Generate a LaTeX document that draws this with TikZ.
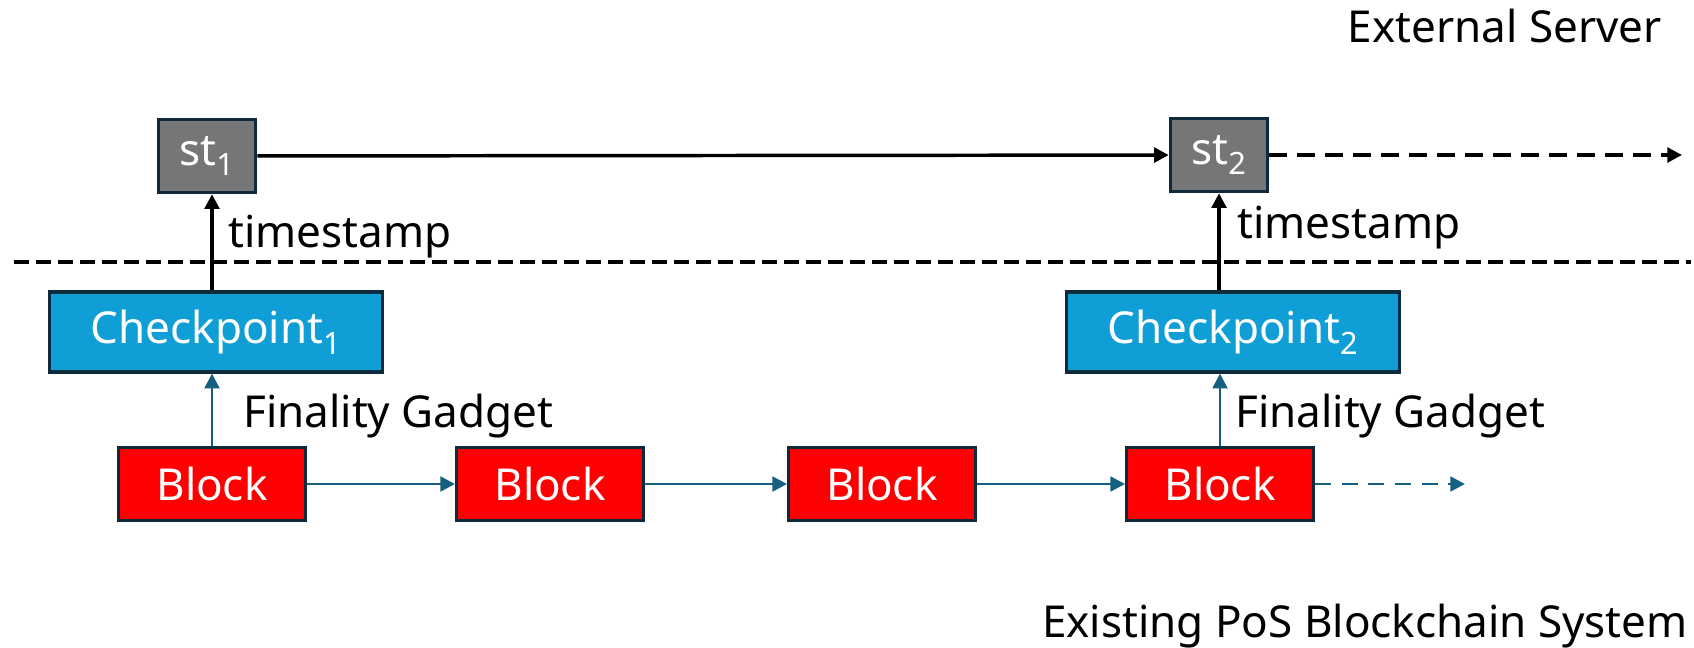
\documentclass[tikz,border=0pt]{standalone}
\usepackage{fontspec}
\setmainfont{Noto Sans}
\usetikzlibrary{arrows.meta,positioning}
\definecolor{blockred}{HTML}{FF0000}
\definecolor{cpblue}{HTML}{0F9ED5}
\definecolor{stgray}{HTML}{767676}
\definecolor{edge}{HTML}{0E2A3D}
\definecolor{link}{HTML}{156082}
\tikzset{
  boxbase/.style={draw=edge, line width=2.4pt, text=white, inner sep=0pt},
  blockbox/.style={boxbase, fill=blockred, minimum width=140pt, minimum height=55pt},
  cpbox/.style={boxbase, fill=cpblue, minimum width=250pt, minimum height=60pt},
  stbox/.style={boxbase, fill=stgray, minimum width=73pt, minimum height=55pt},
  lbl/.style={inner sep=0pt},
  chain/.style={draw=link, line width=2.2pt, -{Triangle[length=11pt,width=11pt]}},
  stamp/.style={draw=black, line width=2.6pt, -{Triangle[length=11pt,width=11pt]}},
}
\begin{document}
\begin{tikzpicture}[x=0.75pt,y=0.75pt,yscale=-1,xscale=1,font=\fontsize{33}{39}\selectfont]
    \path[use as bounding box] (0,0) rectangle (1694,647);

    %Shape: Rectangle (server side)
    \node[stbox] (st1) at (207,156) {st\textsubscript{1}};
    \node[stbox] (st2) at (1219,155) {st\textsubscript{2}};

    %Shape: Rectangle (checkpoints)
    \node[cpbox] (cp1) at (216,332) {Checkpoint\textsubscript{1}};
    \node[cpbox] (cp2) at (1233,332) {Checkpoint\textsubscript{2}};

    %Shape: Rectangle (blocks)
    \node[blockbox] (b1) at (212,484) {Block};
    \node[blockbox] (b2) at (550,484) {Block};
    \node[blockbox] (b3) at (882,484) {Block};
    \node[blockbox] (b4) at (1220,484) {Block};

    % Text Node
    \node[lbl, anchor=base east] (srv) at (1662,42) {External Server};
    \node[lbl, anchor=base east] (pos) at (1688,637) {Existing PoS Blockchain System};
    \node[lbl, anchor=base west] (ts1) at (228,247) {timestamp};
    \node[lbl, anchor=base west] (ts2) at (1237,238) {timestamp};
    \node[lbl, anchor=base west] (fg1) at (243,427) {Finality Gadget};
    \node[lbl, anchor=base west] (fg2) at (1235,427) {Finality Gadget};

    %Straight Lines (separator)
    \coordinate (sepL) at (14,262);
    \coordinate (sepR) at (1691,262);
    \draw[line width=2.6pt, dash pattern={on 11pt off 5.5pt}] (sepL) -- (sepR);

    %Straight Lines (chain of blocks)
    \draw[chain] (b1) -- (b2);
    \draw[chain] (b2) -- (b3);
    \draw[chain] (b3) -- (b4);
    \coordinate (bEnd) at (1465,484);
    \draw[chain, dash pattern={on 12pt off 8pt}] (b4) -- (bEnd);

    %Straight Lines (finality)
    \draw[chain] (b1.north) -- (b1.north |- cp1.south);
    \draw[chain] (b4.north) -- (b4.north |- cp2.south);

    %Straight Lines (timestamps)
    \draw[stamp] (cp1.north -| b1) -- (st1.south -| b1);
    \draw[stamp] (cp2.north -| st2) -- (st2.south);
    \draw[stamp] (st1) -- (st2);
    \coordinate (stEnd) at (1682,155);
    \draw[stamp, dash pattern={on 13pt off 8pt}] (st2) -- (stEnd);

\end{tikzpicture}
\end{document}
